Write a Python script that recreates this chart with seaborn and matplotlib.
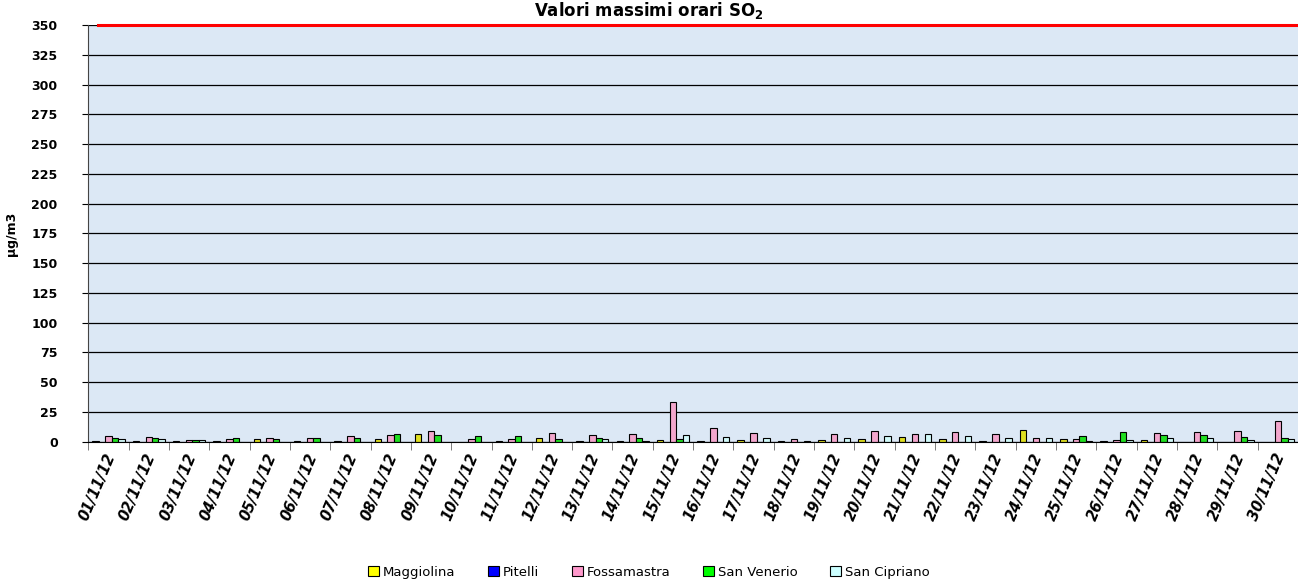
import numpy as np
import pandas as pd
import seaborn as sns
import matplotlib.pyplot as plt
from matplotlib.patches import Patch

nan = np.nan

# dates and series (max hourly SO2, ug/m3)
days = ["%02d/11/12" % d for d in range(1, 31)]
stations = ["Maggiolina", "Pitelli", "Fossamastra", "San Venerio", "San Cipriano"]
colors = ["#FFFF00", "#0000FF", "#FF99CC", "#00FF00", "#CCFFFF"]

maggiolina = [0.5, 0.5, 0.5, 0.5, 2.5, 0.3, 0.5, 2.5, 6.7, nan, 0.5, 3.0, 0.5, 0.5, 1.7,
              0.5, 1.4, 0.5, 1.4, 2.5, 3.9, 2.5, 0.8, 9.8, 2.2, 0.7, 1.7, nan, nan, nan]
pitelli = [nan] * 30
fossamastra = [4.5, 4.0, 1.7, 2.2, 3.0, 2.8, 4.5, 5.9, 8.7, 2.2, 2.2, 7.3, 5.9, 6.4, 33.3,
               11.5, 7.3, 2.2, 6.2, 8.7, 6.2, 7.8, 6.7, 3.1, 2.2, 1.7, 7.3, 8.1, 9.2, 17.6]
san_venerio = [3.0, 3.0, 1.5, 2.8, 2.5, 2.8, 3.0, 6.7, 5.6, 5.0, 5.0, 2.2, 2.8, 2.8, 2.2,
               nan, nan, nan, nan, nan, nan, nan, nan, nan, 4.8, 8.4, 5.9, 5.9, 4.2, 3.1]
san_cipriano = [2.2, 2.5, 1.5, nan, nan, nan, nan, nan, nan, nan, nan, nan, 2.2, 1.0, 5.3,
                4.2, 2.8, 1.0, 3.1, 4.8, 6.7, 4.8, 3.1, 3.1, 1.0, 1.7, 3.1, 2.8, 1.7, 2.2]

limit = 350

series = [maggiolina, pitelli, fossamastra, san_venerio, san_cipriano]
df = pd.DataFrame({
    "data": days * len(stations),
    "stazione": np.repeat(stations, len(days)),
    "valore": np.concatenate(series),
})

fig = plt.figure(figsize=(12.98, 5.82), dpi=100)
ax = fig.add_axes([0.068, 0.241, 0.932, 0.716])
ax.set_facecolor("#dce8f5")

sns.barplot(data=df.dropna(), x="data", y="valore", hue="stazione", order=days,
            hue_order=stations, palette=colors, edgecolor="black", linewidth=0.8,
            width=0.8, ax=ax, legend=False)

ax.set_ylim(0, 350)
ax.set_xlim(-0.5, len(days) - 0.5)
ax.set_yticks(np.arange(0, 351, 25))
ax.yaxis.grid(True, color="black", linewidth=0.9)
ax.set_axisbelow(True)
# limit line, starts a little right of the y axis
ax.plot([-0.25, len(days) - 0.5], [limit, limit], color="red", linewidth=2.2,
        zorder=5, clip_on=False)

for s in ["top", "right"]:
    ax.spines[s].set_visible(False)
ax.spines["left"].set_color("#444444")
ax.spines["bottom"].set_color("black")

ax.set_xticks(np.arange(len(days)) - 0.1)
ax.set_xticklabels(days, rotation=67, ha="right", rotation_mode="anchor",
                   fontsize=10.5, fontweight="bold", fontstyle="italic")
ax.tick_params(axis="x", length=0, pad=7)
ax.set_xticks(np.arange(len(days) + 1) - 0.5, minor=True)
ax.tick_params(axis="x", which="minor", length=6, color="#666666")
ax.tick_params(axis="y", labelsize=9, length=4, pad=18)
for t in ax.get_yticklabels():
    t.set_fontweight("bold")

ax.set_xlabel("")
ax.set_ylabel("µg/m3", fontsize=9, fontweight="bold", labelpad=10)

fig.text(0.5, 1.0, "Valori massimi orari SO$_\\mathbf{2}$", ha="center", va="top",
         fontsize=12, fontweight="bold")

handles = [Patch(facecolor=c, edgecolor="black", linewidth=0.8) for c in colors]
fig.legend(handles, stations, loc="lower center", bbox_to_anchor=(0.5, -0.015), ncol=5,
           frameon=False, fontsize=9.5, handlelength=0.8, handleheight=0.8,
           handletextpad=0.3, columnspacing=2.5)

fig.savefig("out.png", dpi=100)
